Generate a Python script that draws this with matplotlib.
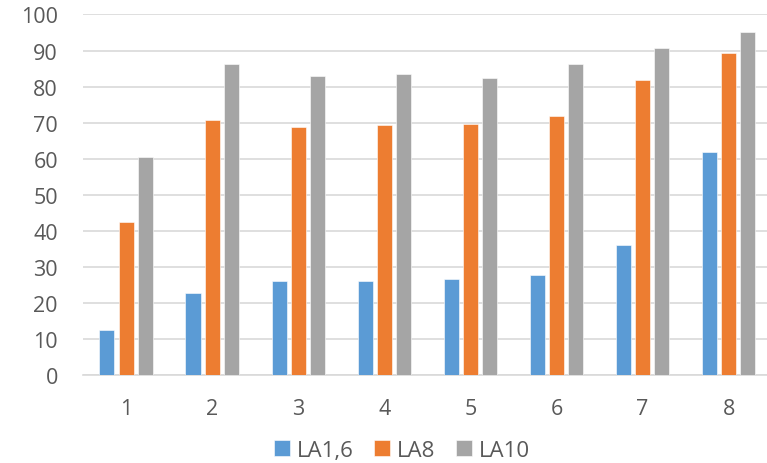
import numpy as np
import matplotlib
matplotlib.use('Agg')
import matplotlib.pyplot as plt

categories = ['1', '2', '3', '4', '5', '6', '7', '8']
la16 = [12.3, 22.7, 25.9, 26.1, 26.7, 27.7, 36.0, 61.8]
la8 = [42.5, 70.8, 68.9, 69.2, 69.5, 71.9, 81.9, 89.2]
la10 = [60.4, 86.3, 82.9, 83.6, 82.5, 86.3, 90.7, 95.1]
series_names = ['LA1,6', 'LA8', 'LA10']
colors = ['#5B9BD5', '#ED7D31', '#A5A5A5']

plt.rcParams['font.family'] = ['Open Sans', 'DejaVu Sans']

fig = plt.figure(figsize=(7.67, 4.64), dpi=100)
ax = fig.add_axes([0.1082, 0.1903, 0.898, 0.7763])

x = np.arange(len(categories))
w = 0.175
step = 0.222
for i, (vals, name, c) in enumerate(zip([la16, la8, la10], series_names, colors)):
    ax.bar(x + (i - 1) * step, vals, w, color=c, label=name, zorder=3,
           edgecolor='white', linewidth=0.4)

ax.set_xlim(-0.5, len(categories) - 0.5)
ax.set_ylim(0, 100)
ax.set_yticks(range(0, 101, 10))
ax.set_xticks(x)
ax.set_xticklabels(categories)
ax.yaxis.grid(True, color='#D9D9D9', linewidth=1.2, zorder=0)
for s in ['top', 'right', 'left']:
    ax.spines[s].set_visible(False)
ax.spines['bottom'].set_color('#D9D9D9')
ax.spines['bottom'].set_linewidth(1.2)
ax.tick_params(axis='both', length=0, labelsize=15.5, colors='#595959')
ax.tick_params(axis='x', pad=17)
ax.tick_params(axis='y', pad=18)

leg = fig.legend(loc='center', bbox_to_anchor=(0.524, 0.027), ncol=3, frameon=False,
                 fontsize=16, handlelength=0.7, handleheight=0.7,
                 handletextpad=0.3, columnspacing=0.95, borderpad=0)
for t in leg.get_texts():
    t.set_color('#595959')

fig.savefig('out.png', dpi=100)
